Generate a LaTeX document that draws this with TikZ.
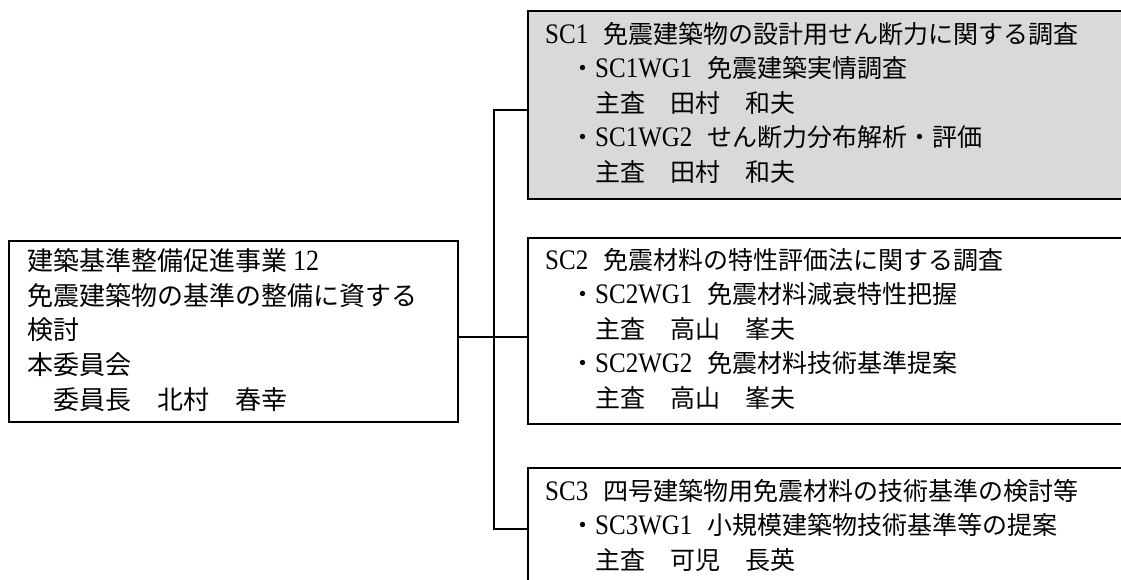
\documentclass[tikz,border=0pt]{standalone}
\usepackage{graphicx}
\usepackage{fontspec}
\setmainfont{Noto Sans CJK JP}
\newfontfamily\latn{Liberation Serif}
\newcommand{\lt}[1]{\scalebox{1}[1.13]{\latn #1}}
\begin{document}
\begin{tikzpicture}[x=1pt,y=-1pt,
  box/.style={draw=black,line width=1.4pt,anchor=north west,inner sep=0pt,outer sep=0pt},
  conn/.style={draw=black,line width=1.3pt},
  rl/.style={anchor=base west,inner sep=0pt,font=\fontsize{25}{30}\selectfont},
  ll/.style={anchor=base west,inner sep=0pt,font=\fontsize{26}{31}\selectfont}]
\useasboundingbox (0,0) rectangle (1121,579);
\clip (0,0) rectangle (1121,579);
% boxes
\node[box,minimum width=449pt,minimum height=181pt] (main) at (9,241) {};
\node[box,fill={rgb,255:red,217;green,217;blue,217},minimum width=600pt,minimum height=188pt] (sc1) at (528,11) {};
\node[box,minimum width=600pt,minimum height=186pt] (sc2) at (528,238) {};
\node[box,minimum width=600pt,minimum height=140pt] (sc3) at (528,468) {};
% connectors
\coordinate (j) at (494,337);
\coordinate (t) at (494,110);
\coordinate (b) at (494,529);
\draw[conn] (main.east |- j) -- (sc2.west |- j);
\draw[conn] (sc1.west |- t) -- (t) -- (b) -- (sc3.west |- b);
% main text
\node[ll] (m1) at (27,270) {建築基準整備促進事業 \lt{12}};
\node[ll] (m2) at (27,305) {免震建築物の基準の整備に資する};
\node[ll] (m3) at (27,339.5) {検討};
\node[ll] (m4) at (27,374) {本委員会};
\node[ll] (m5) at (27,409) {　委員長　北村　春幸};
% SC1
\node[rl] (a1) at (545,43) {\lt{SC1}\hspace{15pt}免震建築物の設計用せん断力に関する調査};
\node[rl] (a2) at (545,77.5) {　・\lt{SC1WG1}\hspace{15pt}免震建築実情調査};
\node[rl] (a3) at (545,112) {　　主査　田村　和夫};
\node[rl] (a4) at (545,146.5) {　・\lt{SC1WG2}\hspace{15pt}せん断力分布解析・評価};
\node[rl] (a5) at (545,181) {　　主査　田村　和夫};
% SC2
\node[rl] (c1) at (545,269) {\lt{SC2}\hspace{15pt}免震材料の特性評価法に関する調査};
\node[rl] (c2) at (545,303.5) {　・\lt{SC2WG1}\hspace{15pt}免震材料減衰特性把握};
\node[rl] (c3) at (545,338) {　　主査　高山　峯夫};
\node[rl] (c4) at (545,372.5) {　・\lt{SC2WG2}\hspace{15pt}免震材料技術基準提案};
\node[rl] (c5) at (545,407) {　　主査　高山　峯夫};
% SC3
\node[rl] (d1) at (545,500) {\lt{SC3}\hspace{15pt}四号建築物用免震材料の技術基準の検討等};
\node[rl] (d2) at (545,534.5) {　・\lt{SC3WG1}\hspace{15pt}小規模建築物技術基準等の提案};
\node[rl] (d3) at (545,569) {　　主査　可児　長英};
\end{tikzpicture}
\end{document}
